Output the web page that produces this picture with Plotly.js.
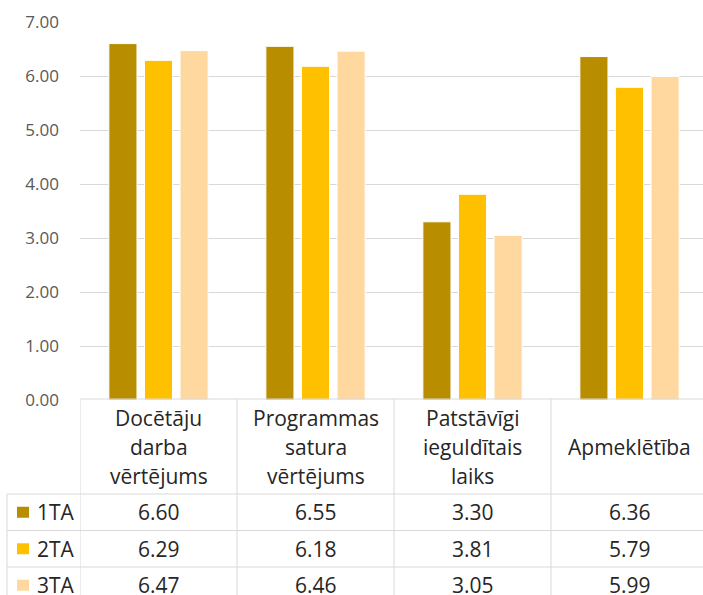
<!DOCTYPE html>
<html><head><meta charset="utf-8">
<script src="https://cdn.plot.ly/plotly-3.0.1.min.js"></script>
<style>body{margin:0;background:#fff}#c{width:703px;height:595px}</style>
</head><body><div id="c"></div>
<script>
const categories = ["Docētāju<br>darba<br>vērtējums", "Programmas<br>satura<br>vērtējums", "Patstāvīgi<br>ieguldītais<br>laiks", "Apmeklētība"];
const seriesNames = ["1TA", "2TA", "3TA"];
const values1TA = [6.60, 6.55, 3.30, 6.36];
const values2TA = [6.29, 6.18, 3.81, 5.79];
const values3TA = [6.47, 6.46, 3.05, 5.99];
const colors = ["#B88D00", "#FFC000", "#FFD8A0"];
const tickVals = [0, 1, 2, 3, 4, 5, 6, 7];

const W = 703, H = 595, L = 80, R = 0, T = 22, B = 195;
const plotH = H - T - B, plotW = W - L - R;
const catW = 157;                          // pixel width of one category column
const py = p => (H - B - p) / plotH;       // pixel y -> paper y
const pxp = p => (p - L) / plotW;          // pixel x -> paper x
const FONT = "'Open Sans', 'Noto Sans', sans-serif";
const txt = "#262626", grid = "#D9D9D9";
const TFS = 21;

const allVals = [values1TA, values2TA, values3TA];
const xIdx = categories.map((_, i) => i);
const traces = allVals.map((v, s) => ({
  type: "bar", x: xIdx, y: v, name: seriesNames[s],
  marker: {color: colors[s], line: {color: "#ffffff", width: 1}},
  hoverinfo: "y", showlegend: false
}));

const shapes = [], annotations = [];
const headTop = 399, headBot = 494, rowH = 36.5;
const line = (x0, y0, x1, y1) => shapes.push({type: "line", xref: "paper", yref: "paper",
  x0, y0: py(y0), x1, y1: py(y1), line: {color: grid, width: 1}, layer: "above"});
line(pxp(L), headTop, pxp(W + 5), headTop);
for (let r = 0; r <= 3; r++) line(pxp(7), headBot + r * rowH, pxp(W + 5), headBot + r * rowH);
line(pxp(7), headBot, pxp(7), H + 5);
for (let k = 0; k <= categories.length; k++) {
  const xv = k - 0.5;
  shapes.push({type: "line", xref: "x", yref: "paper", x0: xv, x1: xv, y0: py(headTop), y1: py(H + 5),
    line: {color: grid, width: 1}, layer: "above"});
}
const lineGap = 28.5, headMid = 447;
categories.forEach((c, i) => {
  const parts = c.split("<br>");
  parts.forEach((p, j) => {
    const yc = headMid + (j - (parts.length - 1) / 2) * lineGap;
    annotations.push({xref: "x", yref: "paper", x: i, y: py(yc), text: p, showarrow: false,
      xanchor: "center", yanchor: "middle", font: {family: FONT, size: TFS, color: txt}});
  });
});
allVals.forEach((v, s) => {
  const yc = headBot + rowH * (s + 0.5);
  shapes.push({type: "rect", xref: "paper", yref: "paper", x0: pxp(17), x1: pxp(29),
    y0: py(yc - 5.5), y1: py(yc + 5.5), fillcolor: colors[s], line: {width: 0}, layer: "above"});
  annotations.push({xref: "paper", yref: "paper", x: pxp(56), y: py(yc), text: seriesNames[s], showarrow: false,
    xanchor: "center", yanchor: "middle", font: {family: FONT, size: TFS, color: txt}});
  v.forEach((val, i) => {
    annotations.push({xref: "x", yref: "paper", x: i, y: py(yc), text: val.toFixed(2), showarrow: false,
      xanchor: "center", yanchor: "middle", font: {family: FONT, size: TFS, color: txt}});
  });
});

const layout = {
  width: W, height: H, margin: {l: L, r: R, t: T, b: B},
  paper_bgcolor: "#fff", plot_bgcolor: "#fff",
  barmode: "group", bargap: 0.32, bargroupgap: 0.21,
  xaxis: {range: [-0.5, plotW / catW - 0.5], showticklabels: false, showgrid: false, zeroline: false,
    showline: false, ticks: "", fixedrange: true},
  yaxis: {range: [0, 7], tickvals: tickVals, tickformat: ".2f", showgrid: true, gridcolor: grid, gridwidth: 1,
    zeroline: false, showline: false, ticks: "", ticklabelstandoff: 20,
    tickfont: {family: FONT, size: 17, color: "#595959"}, fixedrange: true},
  shapes, annotations, showlegend: false
};
Plotly.newPlot("c", traces, layout, {displayModeBar: false, staticPlot: true});
</script></body></html>
